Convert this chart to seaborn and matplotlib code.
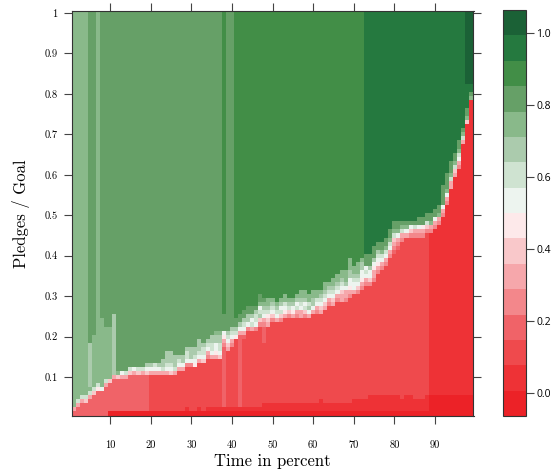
import numpy as np
import pandas as pd
import matplotlib
matplotlib.use("Agg")
import matplotlib.pyplot as plt
import seaborn as sns
from matplotlib.colors import ListedColormap

# ---------------- data ----------------
time_pct = list(range(1, 100))                             # x categories (columns)
pledge_ratio = [round(i / 100, 2) for i in range(1, 101)]  # y categories (rows)

level_lo, level_hi = -0.0625, 1.0625                       # colour-key range
level_colors = ["#ec2227", "#ee3236", "#ef4a4d", "#f06368", "#f3878b", "#f6a7ab",
                "#f9c8ca", "#fde9ea", "#edf4ef", "#cfe3d1", "#abcbad", "#89b98a",
                "#66a067", "#428e47", "#25793f", "#1b6136"]

# level (hex digit 0..f) of the upper (success) region in each column
upper_level = ("bbbbccbccc" "cccccccccc" "cccccccccc" "cccccccdcc" "dddddddddd"
               "dddddddddd" "dddddddddd" "ddeeeeeeee" "eeeeeeeeee" "eeeeeeeee")
# level of the lower (failure) region in each column
lower_level = ("3333333333" "3333333332" "2222222222" "2222222322" "2322222222"
               "2222222222" "2222222222" "2222222222" "2222222211" "111111111")
# number of rows (from the bottom) in the failure region, per column
red_top = [1, 2, 3, 3, 4, 5, 6, 6, 7, 8,
           9, 9, 9, 9, 10, 10, 10, 10, 10, 10,
           10, 10, 10, 10, 10, 10, 11, 11, 12, 12,
           12, 13, 13, 14, 14, 14, 14, 17, 16, 17,
           19, 20, 19, 21, 21, 21, 22, 18, 22, 23,
           23, 23, 24, 24, 24, 24, 24, 24, 24, 25,
           25, 25, 26, 27, 27, 28, 28, 28, 29, 30,
           30, 31, 32, 32, 33, 35, 36, 37, 39, 40,
           41, 43, 44, 44, 44, 44, 44, 45, 45, 46,
           47, 49, 52, 56, 59, 61, 67, 72, 78]
# levels of the transition cells just above the failure region (bottom -> top)
fringe = ["5", "59", "59", "69", "59baaaaaaaaaaa", "69bbbbbbbbbbbbb", "79",
          "8bbbbbbbbbbbbbbbbb", "59bbbbbbbbbbbbb", "6bbbbbbbbbbbbb",
          "5aaaaaaaaaaaaaaa", "6b", "58", "59", "69", "58", "69", "59", "68a", "58a",
          "589", "58a", "59aa", "589aaa", "689aaa", "59aaa", "589a", "58aa", "4899a", "48aaa",
          "789aa", "589aaa", "6899a", "4589a", "5899aa", "5788aab", "6899aab", "4578cccc", "5689a", "4589a",
          "79acc", "58acc", "3589acc", "48aacc", "598acc", "4899ac", "46a98bcc", "33334589abc", "5679abb", "4689ab",
          "589ab", "4698ab", "5789bb", "469ab", "578ab", "4598ab", "5589abb", "4698abb", "58a9bb", "58aabb",
          "4589bb", "5689ab", "5689abb", "4589ab", "5689abb", "4589abb", "55689abb", "4558abbb", "45788aabbb", "5889abb",
          "4689abbb", "45788aab", "45898ccc", "4688accc", "45578accc", "45789acc", "4589bcc", "4589bcc", "4589bcc", "34569bcc",
          "3458bcc", "459bc", "58bc", "468c", "459c", "458cc", "457cc", "469cc", "45bcc", "458cc",
          "45bcc", "458ccccc", "458bcccc", "559bccc", "569bcc", "4589bcc", "59bc", "6bcc", "bc"]
# rows at the very bottom with the darkest reds, per column
floor_rows = [0, 0, 0, 0, 0, 0, 0, 0, 0, 1,
              1, 1, 1, 1, 1, 1, 1, 1, 1, 1,
              1, 1, 1, 1, 1, 1, 1, 1, 2, 1,
              1, 2, 1, 2, 2, 2, 2, 2, 2, 2,
              2, 2, 2, 2, 2, 2, 2, 3, 3, 3,
              3, 3, 3, 3, 3, 3, 3, 3, 3, 3,
              3, 4, 3, 3, 3, 3, 3, 3, 3, 4,
              4, 4, 4, 5, 5, 5, 5, 5, 5, 5,
              5, 4, 5, 5, 4, 4, 4, 5, 5, 5,
              5, 5, 5, 5, 5, 5, 5, 5, 5]
# top-right darkest cap: column -> first row
dark_cap = {98: 83, 99: 83}

# ---------------- build matrix ----------------
step = (level_hi - level_lo) / len(level_colors)
n_rows, n_cols = len(pledge_ratio), len(time_pct)
levels = np.zeros((n_rows, n_cols), dtype=int)
for j, t in enumerate(time_pct):
    col = [int(upper_level[j], 16)] * n_rows
    for r in range(red_top[j]):
        col[r] = int(lower_level[j], 16)
    for r in range(floor_rows[j]):
        if int(lower_level[j], 16) <= 1:
            col[r] = 0
        else:
            col[r] = 0 if (r == 0 and t >= 10) else 1
    for k, ch in enumerate(fringe[j]):
        if red_top[j] + k < n_rows:
            col[red_top[j] + k] = int(ch, 16)
    if t in dark_cap:
        for r in range(dark_cap[t] - 1, n_rows):
            col[r] = 15
    levels[:, j] = col
values = level_lo + (levels + 0.5) * step

df = pd.DataFrame(values, index=pledge_ratio, columns=time_pct).iloc[::-1]

# ---------------- plot ----------------
plt.rcParams['font.family'] = 'cmr10'
plt.rcParams['axes.unicode_minus'] = False

fig = plt.figure(figsize=(5.54, 4.74), dpi=100)
ax = fig.add_axes([71.5 / 554, 1 - 415.5 / 474, 402 / 554, 404.5 / 474])
cax = fig.add_axes([503 / 554, 1 - 416 / 474, 23 / 554, 406 / 474])

sns.heatmap(df, ax=ax, cbar_ax=cax, cmap=ListedColormap(level_colors),
            vmin=level_lo, vmax=level_hi, xticklabels=False, yticklabels=False)

x_tick_values = [10, 20, 30, 40, 50, 60, 70, 80, 90]
y_tick_values = [0.1, 0.2, 0.3, 0.4, 0.5, 0.6, 0.7, 0.8, 0.9, 1.0]
y_tick_labels = ["0.1", "0.2", "0.3", "0.4", "0.5", "0.6", "0.7", "0.8", "0.9", "1"]
xcats = list(df.columns)
ycats = list(df.index)
ax.set_xticks([xcats.index(t) + 0.5 for t in x_tick_values])
ax.set_xticklabels([str(t) for t in x_tick_values], rotation=0, fontsize=7.5)
ax.set_yticks([ycats.index(v) + 0.5 for v in y_tick_values])
ax.set_yticklabels(y_tick_labels, rotation=0, fontsize=7.5)

ax.tick_params(axis='both', direction='out', length=6, width=0.8, color='#444444',
               top=True, right=True, labeltop=False, labelright=False)
ax.tick_params(axis='x', pad=12)
ax.tick_params(axis='y', pad=4)
for s in ax.spines.values():
    s.set_visible(True)
    s.set_linewidth(0.8)
    s.set_edgecolor('#333333')

ax.set_xlabel("Time in percent", fontsize=12, labelpad=3)
ax.set_ylabel("Pledges / Goal", fontsize=12, labelpad=10)

cbar = ax.collections[0].colorbar
cbar.set_ticks([0.0, 0.2, 0.4, 0.6, 0.8, 1.0])
cbar.set_ticklabels(["0.0", "0.2", "0.4", "0.6", "0.8", "1.0"])
cbar.outline.set_visible(True)
cbar.outline.set_linewidth(0.8)
cbar.outline.set_edgecolor('#333333')
cax.tick_params(direction='out', length=6, width=0.8, pad=1.5, color='#444444')
for lbl in cax.get_yticklabels():
    lbl.set_fontfamily('Open Sans')
    lbl.set_fontsize(7.5)

fig.savefig("out.png", dpi=100)
